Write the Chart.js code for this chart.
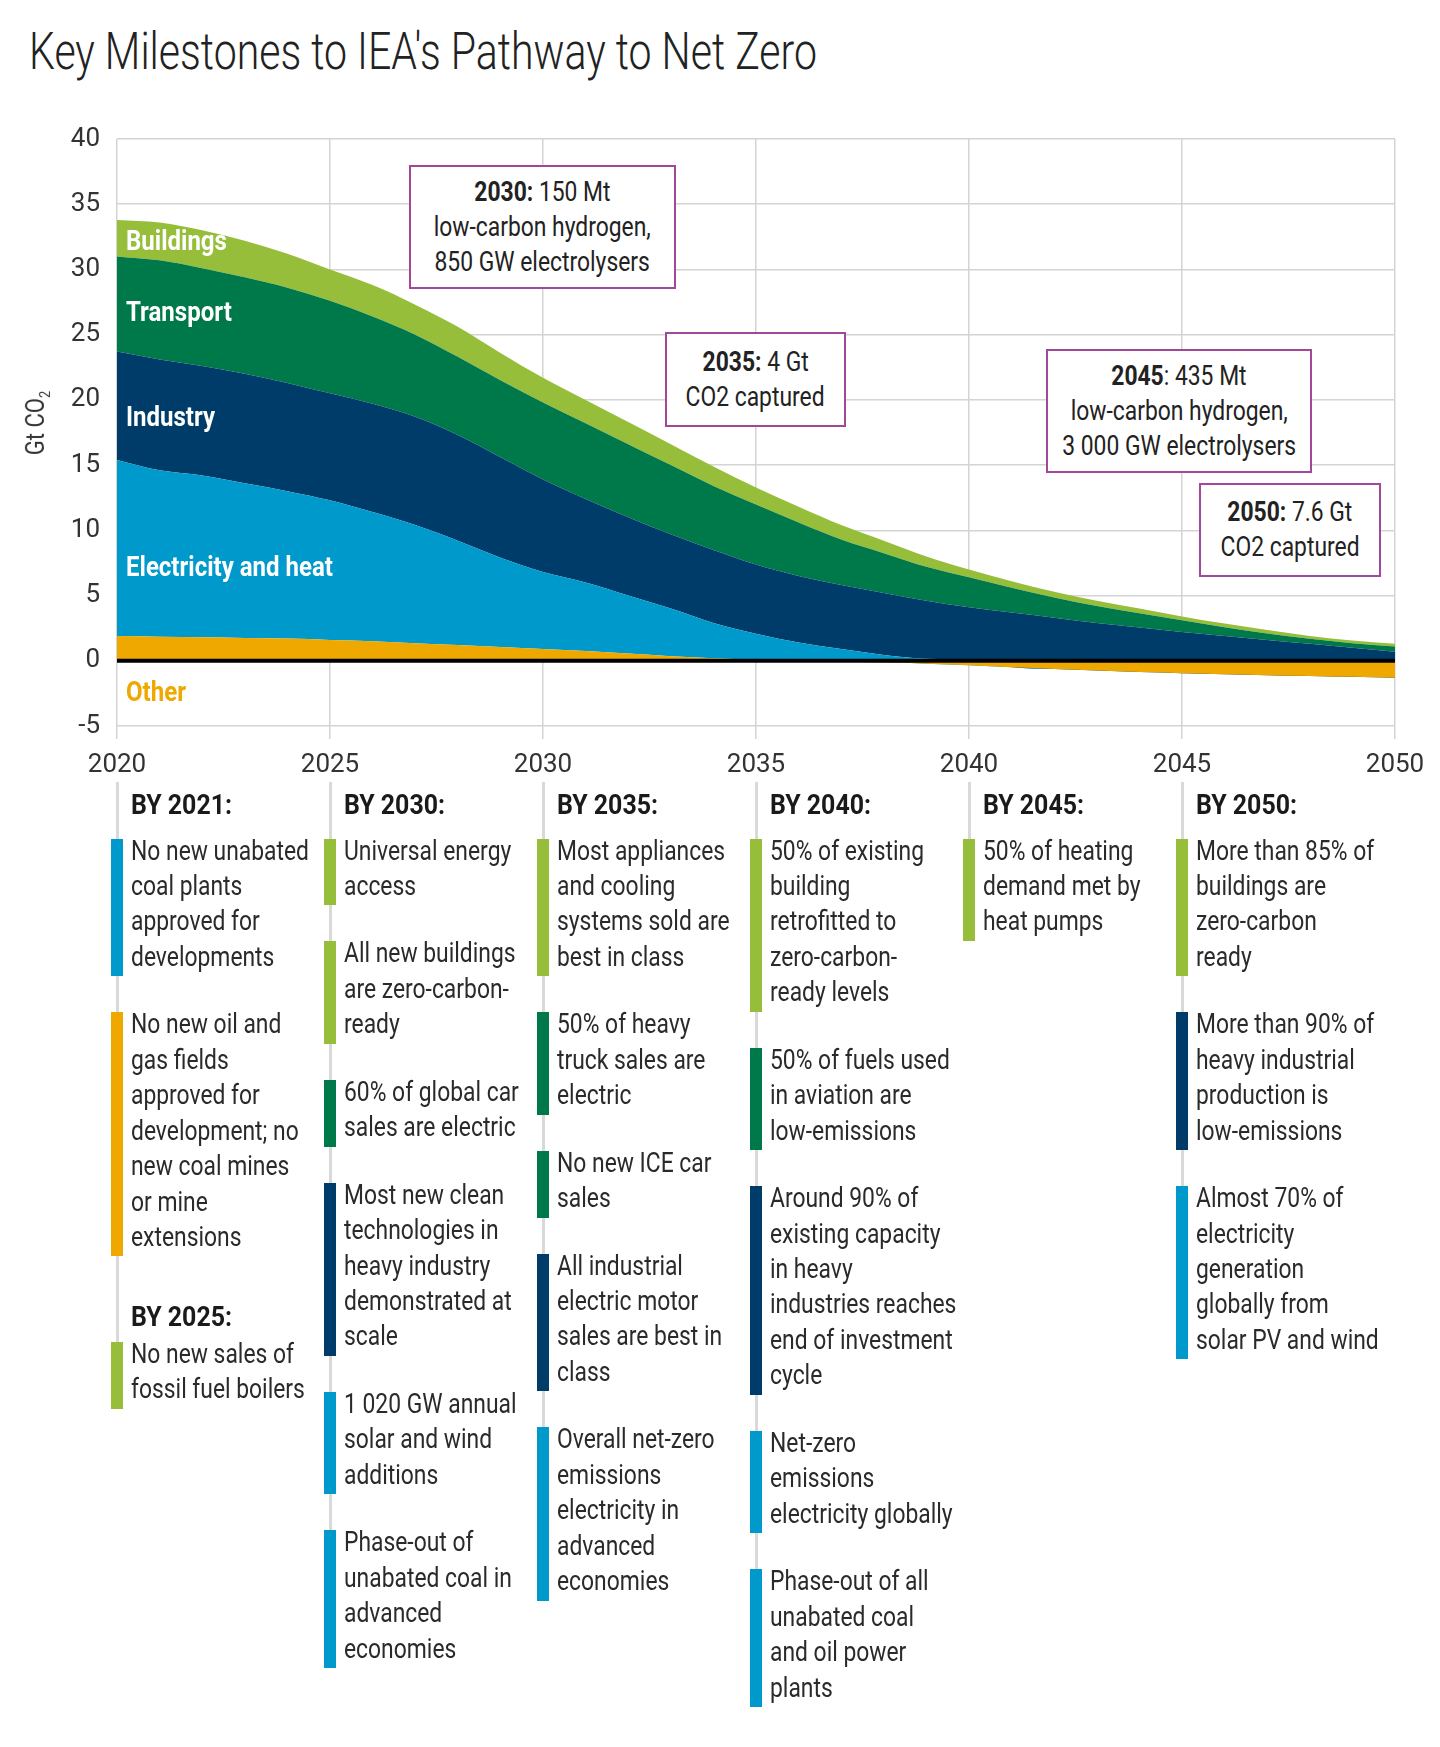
<!DOCTYPE html>
<html lang="en">
<head>
<meta charset="UTF-8">
<title>Key Milestones to IEA's Pathway to Net Zero</title>
<script src="https://cdn.jsdelivr.net/npm/chart.js"></script>
<style>
  html, body { margin: 0; padding: 0; background: #fff; }
  body { width: 1440px; height: 1747px; position: relative; overflow: hidden;
         font-family: Roboto, 'Liberation Sans', sans-serif; color: #222; }
  .sx { display: inline-block; white-space: nowrap; transform-origin: left center; transform: scaleX(var(--k, 0.8)); }
  .title { position: absolute; left: 29px; top: 22px; margin: 0; font-weight: 300; font-size: 52px; line-height: 60px; color: #222; }
  .title .sx { transform: scaleX(var(--kt, 0.7)); }
  #chartBox { position: absolute; left: 0; top: 100px; width: 1440px; height: 690px; }
  .ytitle { position: absolute; left: 40px; top: 423px; transform: translate(-50%, -50%) rotate(-90deg);
            font-size: 26px; line-height: 30px; color: #333; white-space: nowrap; }
  .ytitle .sx { transform-origin: center center; }
  .ytitle sub { font-size: 15px; }
  .area { position: absolute; left: 126px; font-weight: bold; font-size: 27px; line-height: 30px; color: #fff; transform: translateY(-50%); }
  .area .sx { transform: scaleX(var(--kb, 0.8)); }
  .note { position: absolute; box-sizing: border-box; border: 2px solid #a2479a; background: #fff;
          display: flex; flex-direction: column; justify-content: center; align-items: center;
          font-size: 27px; line-height: 35px; color: #222; }
  .note .sx { transform-origin: center center; }
  .col { position: absolute; top: 782px; border-left: 3px solid #d9d9d9; padding-left: 12px; width: 200px; }
  .col h3 { margin: 5px 0 10px 0; font-size: 28px; line-height: 36.5px; font-weight: bold; color: #1a1a1a; }
  .col h3 .sx { transform: scaleX(var(--kh, 0.8)); }
  .col h3.later { margin-top: 44px; margin-bottom: 1px; }
  .item { position: relative; font-size: 27px; line-height: 35.45px; margin-bottom: 32px; color: #2a2a2a; }
  .item::before { content: ''; position: absolute; left: -19.5px; width: 12px; top: 5px; bottom: -1px; background: var(--c); }
  .item:last-child { margin-bottom: 0; }
</style>
</head>
<body>
<h1 class="title"><span class="sx">Key Milestones to IEA's Pathway to Net Zero</span></h1>
<div id="chartBox"><canvas id="netZero"></canvas></div>
<div class="ytitle"><span class="sx">Gt CO<sub>2</sub></span></div>

<div class="area" style="top:241px"><span class="sx">Buildings</span></div>
<div class="area" style="top:312px"><span class="sx">Transport</span></div>
<div class="area" style="top:417px"><span class="sx">Industry</span></div>
<div class="area" style="top:567px"><span class="sx">Electricity and heat</span></div>
<div class="area" style="top:692px;color:#eea800"><span class="sx">Other</span></div>

<div class="note" style="left:409px;top:165px;width:267px;height:124px"><span class="sx"><b>2030:</b> 150 Mt</span><span class="sx">low-carbon hydrogen,</span><span class="sx">850 GW electrolysers</span></div>
<div class="note" style="left:665px;top:332px;width:181px;height:95px"><span class="sx"><b>2035:</b> 4 Gt</span><span class="sx">CO2 captured</span></div>
<div class="note" style="left:1046px;top:349px;width:266px;height:124px"><span class="sx"><b>2045</b>: 435 Mt</span><span class="sx">low-carbon hydrogen,</span><span class="sx">3 000 GW electrolysers</span></div>
<div class="note" style="left:1199px;top:483px;width:182px;height:94px"><span class="sx"><b>2050:</b> 7.6 Gt</span><span class="sx">CO2 captured</span></div>

<div id="milestones"></div>

<script>
// emissions by sector, Gt CO2
const years = [2020, 2021, 2022, 2023, 2024, 2025, 2026, 2027, 2028, 2029, 2030,
               2031, 2032, 2033, 2034, 2035, 2036, 2037, 2038, 2039, 2040,
               2041, 2042, 2043, 2044, 2045, 2046, 2047, 2048, 2049, 2050];
const other       = [1.9, 1.85, 1.8, 1.75, 1.7, 1.6, 1.5, 1.35, 1.2, 1.05, 0.9, 0.75, 0.55, 0.35, 0.2, 0.08, 0, -0.05, -0.12, -0.22, -0.35, -0.5, -0.63, -0.75, -0.86, -0.95, -1.03, -1.1, -1.16, -1.22, -1.3];
const electricity = [13.5, 12.75, 12.4, 11.85, 11.3, 10.7, 9.9, 9.05, 8.0, 6.85, 5.9, 5.25, 4.45, 3.65, 2.7, 2.0, 1.4, 0.9, 0.45, 0.15, 0.05, 0, 0, 0, 0, 0, 0, 0, 0, 0, 0];
const industry    = [8.3, 8.5, 8.4, 8.4, 8.3, 8.2, 8.3, 8.3, 8.1, 7.7, 7.1, 6.4, 6.0, 5.7, 5.6, 5.3, 5.1, 4.9, 4.75, 4.45, 4.05, 3.7, 3.3, 2.9, 2.55, 2.2, 1.9, 1.6, 1.3, 1.0, 0.7];
const transport   = [7.3, 7.6, 7.5, 7.4, 7.3, 7.1, 6.7, 6.3, 6.0, 5.9, 5.9, 5.8, 5.6, 5.3, 4.9, 4.6, 4.1, 3.5, 3.05, 2.6, 2.3, 1.9, 1.55, 1.3, 1.1, 0.9, 0.67, 0.5, 0.38, 0.35, 0.4];
const buildings   = [2.8, 2.9, 2.9, 2.8, 2.6, 2.4, 2.4, 2.3, 2.3, 2.1, 1.9, 1.8, 1.7, 1.6, 1.5, 1.3, 1.2, 1.1, 0.95, 0.8, 0.6, 0.5, 0.45, 0.4, 0.35, 0.3, 0.28, 0.25, 0.22, 0.2, 0.2];

const xTicks = [2020, 2025, 2030, 2035, 2040, 2045, 2050];
const yTicks = [-5, 0, 5, 10, 15, 20, 25, 30, 35, 40];

const colors = {
  other: '#eea800', electricity: '#0099cc', industry: '#003c69',
  transport: '#00794a', buildings: '#96be3b'
};

// milestone columns under the chart (one per 5-year tick)
const milestones = [
  { year: 2020, groups: [
    { head: 'BY 2021:', items: [
      ['electricity', ['No new unabated', 'coal plants', 'approved for', 'developments']],
      ['other', ['No new oil and', 'gas fields', 'approved for', 'development; no', 'new coal mines', 'or mine', 'extensions']] ] },
    { head: 'BY 2025:', items: [
      ['buildings', ['No new sales of', 'fossil fuel boilers']] ] } ] },
  { year: 2025, groups: [
    { head: 'BY 2030:', items: [
      ['buildings', ['Universal energy', 'access']],
      ['buildings', ['All new buildings', 'are zero-carbon-', 'ready']],
      ['transport', ['60% of global car', 'sales are electric']],
      ['industry', ['Most new clean', 'technologies in', 'heavy industry', 'demonstrated at', 'scale']],
      ['electricity', ['1 020 GW annual', 'solar and wind', 'additions']],
      ['electricity', ['Phase-out of', 'unabated coal in', 'advanced', 'economies']] ] } ] },
  { year: 2030, groups: [
    { head: 'BY 2035:', items: [
      ['buildings', ['Most appliances', 'and cooling', 'systems sold are', 'best in class']],
      ['transport', ['50% of heavy', 'truck sales are', 'electric']],
      ['transport', ['No new ICE car', 'sales']],
      ['industry', ['All industrial', 'electric motor', 'sales are best in', 'class']],
      ['electricity', ['Overall net-zero', 'emissions', 'electricity in', 'advanced', 'economies']] ] } ] },
  { year: 2035, groups: [
    { head: 'BY 2040:', items: [
      ['buildings', ['50% of existing', 'building', 'retrofitted to', 'zero-carbon-', 'ready levels']],
      ['transport', ['50% of fuels used', 'in aviation are', 'low-emissions']],
      ['industry', ['Around 90% of', 'existing capacity', 'in heavy', 'industries reaches', 'end of investment', 'cycle']],
      ['electricity', ['Net-zero', 'emissions', 'electricity globally']],
      ['electricity', ['Phase-out of all', 'unabated coal', 'and oil power', 'plants']] ] } ] },
  { year: 2040, groups: [
    { head: 'BY 2045:', items: [
      ['buildings', ['50% of heating', 'demand met by', 'heat pumps']] ] } ] },
  { year: 2045, groups: [
    { head: 'BY 2050:', items: [
      ['buildings', ['More than 85% of', 'buildings are', 'zero-carbon', 'ready']],
      ['industry', ['More than 90% of', 'heavy industrial', 'production is', 'low-emissions']],
      ['electricity', ['Almost 70% of', 'electricity', 'generation', 'globally from', 'solar PV and wind']] ] } ] }
];

// the original uses a condensed face; squeeze Roboto horizontally to the same widths
const meas = document.createElement('canvas').getContext('2d');
function fit(font, text, target) {
  meas.font = font;
  return target / meas.measureText(text).width;
}
const root = document.documentElement.style;
root.setProperty('--k', fit('27px Roboto', 'No new unabated', 178));
root.setProperty('--kb', fit('bold 27px Roboto', 'Electricity and heat', 207));
root.setProperty('--kh', fit('bold 28px Roboto', 'BY 2021:', 101));
root.setProperty('--kt', fit('300 52px Roboto', "Key Milestones to IEA's Pathway to Net Zero", 788));

Chart.defaults.font.family = "Roboto, 'Liberation Sans', sans-serif";
Chart.defaults.color = '#333';

function series(values) {
  return values.map((v, i) => ({ x: years[i], y: v }));
}
function area(label, values, color, fill) {
  return {
    label: label, data: series(values), backgroundColor: color, borderColor: color,
    borderWidth: 0, pointRadius: 0, fill: fill, cubicInterpolationMode: 'monotone'
  };
}

// thick black zero line drawn over the areas
const zeroLine = {
  id: 'zeroLine',
  afterDatasetsDraw(chart) {
    const { ctx, chartArea, scales } = chart;
    const y0 = scales.y.getPixelForValue(0);
    ctx.save();
    ctx.strokeStyle = '#000';
    ctx.lineWidth = 4;
    ctx.beginPath();
    ctx.moveTo(chartArea.left, y0);
    ctx.lineTo(chartArea.right, y0);
    ctx.stroke();
    ctx.restore();
  }
};

const chart = new Chart(document.getElementById('netZero'), {
  type: 'line',
  data: {
    datasets: [
      area('Other', other, colors.other, 'origin'),
      area('Electricity and heat', electricity, colors.electricity, '-1'),
      area('Industry', industry, colors.industry, '-1'),
      area('Transport', transport, colors.transport, '-1'),
      area('Buildings', buildings, colors.buildings, '-1')
    ]
  },
  options: {
    responsive: true,
    maintainAspectRatio: false,
    animation: false,
    layout: { padding: { left: 0, right: 45, top: 39, bottom: 0 } },
    plugins: { legend: { display: false }, tooltip: { enabled: false } },
    scales: {
      x: {
        type: 'linear', min: 2020, max: 2050,
        afterBuildTicks: s => { s.ticks = xTicks.map(v => ({ value: v })); },
        afterFit: s => { s.height = 64; },
        grid: { color: '#d4d4d4', lineWidth: 1.5, drawTicks: true, tickLength: 13, tickColor: '#d4d4d4' },
        border: { display: false },
        ticks: { padding: 11, color: '#333', font: { size: 26 }, callback: v => String(v), maxRotation: 0 }
      },
      y: {
        stacked: true, min: -5, max: 40,
        afterBuildTicks: s => { s.ticks = yTicks.map(v => ({ value: v })); },
        afterFit: s => { s.width = 117; },
        grid: { color: '#d4d4d4', lineWidth: 1.5, drawTicks: false },
        border: { display: false },
        ticks: { padding: 17, color: '#333', font: { size: 26 } }
      }
    }
  },
  plugins: [zeroLine]
});

// place the milestone columns on the x scale's 5-year positions
const box = document.getElementById('milestones');
milestones.forEach(col => {
  const div = document.createElement('div');
  div.className = 'col';
  div.style.left = (chart.scales.x.getPixelForValue(col.year) - 1.5) + 'px';
  col.groups.forEach((g, gi) => {
    const h = document.createElement('h3');
    h.innerHTML = '<span class="sx">' + g.head + '</span>';
    if (gi > 0) h.className = 'later';
    div.appendChild(h);
    g.items.forEach(([key, lines], ii) => {
      const it = document.createElement('div');
      it.className = 'item';
      it.style.setProperty('--c', colors[key]);
      it.innerHTML = lines.map(l => '<span class="sx">' + l + '</span>').join('<br>');
      // the last item before a second heading keeps its gap
      if (gi < col.groups.length - 1 && ii === g.items.length - 1) it.style.marginBottom = '32px';
      div.appendChild(it);
    });
  });
  box.appendChild(div);
});
</script>
</body>
</html>
